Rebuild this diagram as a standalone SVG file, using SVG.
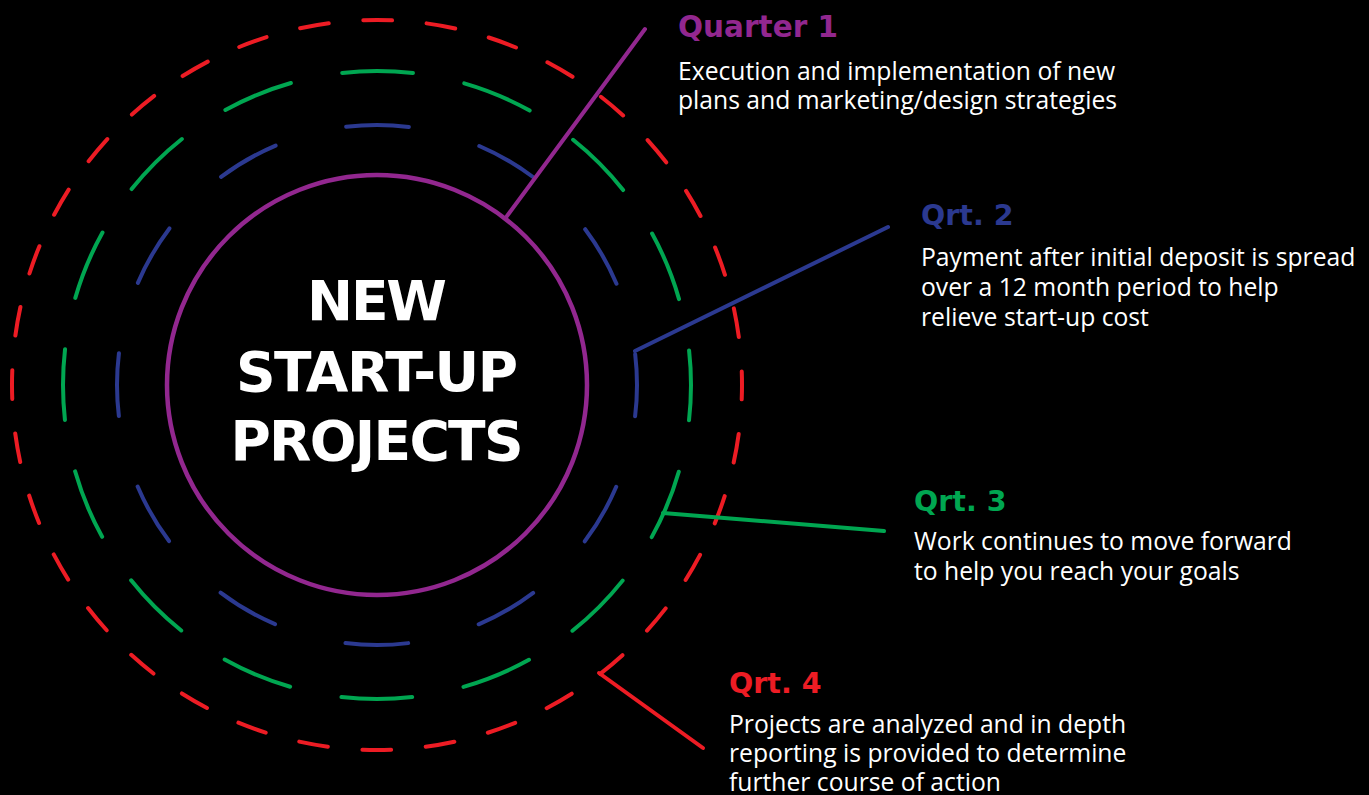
<svg xmlns="http://www.w3.org/2000/svg" width="1369" height="795" viewBox="0 0 1369 795">
<style>
.ring{fill:none;stroke-width:4;stroke-linecap:round}
.conn{fill:none;stroke-width:4;stroke-linecap:round;stroke-linejoin:miter}
.title{font-family:"DejaVu Sans","Liberation Sans",sans-serif;font-weight:700}
.body{font-family:"Open Sans","Liberation Sans",sans-serif;font-weight:400;font-size:24.7px;fill:#ffffff}
.center{font-family:"DejaVu Sans","Liberation Sans",sans-serif;font-weight:700;font-size:55px;fill:#ffffff;text-anchor:middle}
.purple{stroke:#92278F}
.blue{stroke:#2B3990}
.green{stroke:#00A651}
.red{stroke:#ED1C24}
</style>
<rect x="0" y="0" width="1369" height="795" fill="#000000"/>
<g id="rings">
<circle id="ring-red" class="ring red" cx="377" cy="385" r="365" stroke-dasharray="29 34.704" stroke-dashoffset="14.5"/>
<circle id="ring-green" class="ring green" cx="377" cy="385" r="314" stroke-dasharray="71 52.308" stroke-dashoffset="35.5"/>
<circle id="ring-blue" class="ring blue" cx="377" cy="385" r="260" stroke-dasharray="63 73.136" stroke-dashoffset="31.5"/>
</g>
<g id="center-node">
<circle cx="377" cy="385" r="210" fill="none" stroke="#92278F" stroke-width="4.5"/>
<text class="center" x="377" y="320" textLength="140" lengthAdjust="spacing">NEW</text>
<text class="center" x="377" y="391" textLength="282" lengthAdjust="spacing">START-UP</text>
<text class="center" x="377" y="460" textLength="293" lengthAdjust="spacing">PROJECTS</text>
</g>
<g id="connectors">
<line class="conn purple" x1="507" y1="216" x2="645" y2="29"/>
<line class="conn blue" x1="635" y1="351" x2="888" y2="227"/>
<line class="conn green" x1="663" y1="513" x2="884" y2="531"/>
<line class="conn red" x1="599" y1="673" x2="703" y2="748"/>
</g>
<g id="q1">
<text class="title" x="678" y="37" font-size="29.5" fill="#92278F">Quarter 1</text>
<text class="body" x="678" y="80">Execution and implementation of new</text>
<text class="body" x="678" y="109">plans and marketing/design strategies</text>
</g>
<g id="q2">
<text class="title" x="921" y="225" font-size="28.5" fill="#2B3990">Qrt. 2</text>
<text class="body" x="921" y="266">Payment after initial deposit is spread</text>
<text class="body" x="921" y="296">over a 12 month period to help</text>
<text class="body" x="921" y="326">relieve start-up cost</text>
</g>
<g id="q3">
<text class="title" x="914" y="511" font-size="28.5" fill="#00A651">Qrt. 3</text>
<text class="body" x="914" y="550">Work continues to move forward</text>
<text class="body" x="914" y="580">to help you reach your goals</text>
</g>
<g id="q4">
<text class="title" x="729" y="693" font-size="28.5" fill="#ED1C24">Qrt. 4</text>
<text class="body" x="729" y="733">Projects are analyzed and in depth</text>
<text class="body" x="729" y="762">reporting is provided to determine</text>
<text class="body" x="729" y="791">further course of action</text>
</g>
</svg>
